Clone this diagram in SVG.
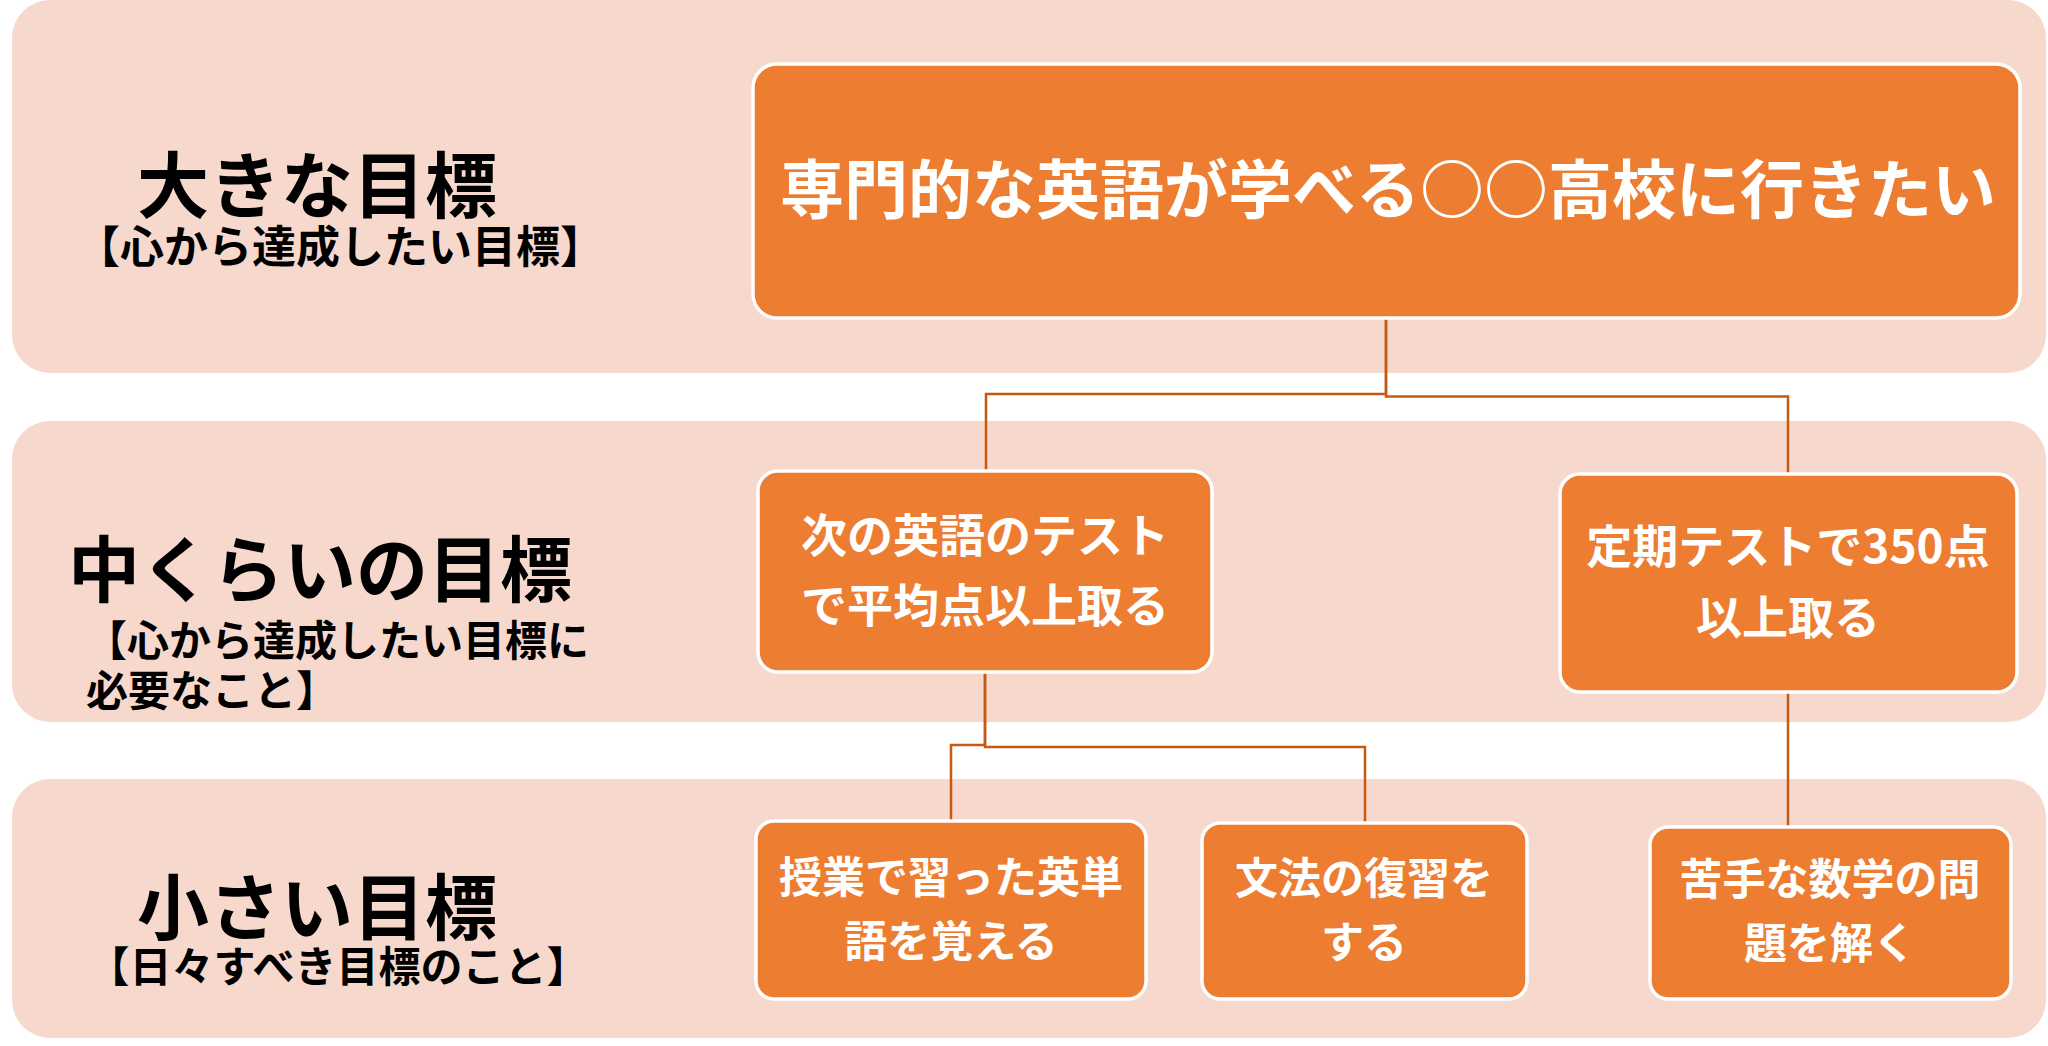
<svg xmlns="http://www.w3.org/2000/svg" width="2048" height="1046" viewBox="0 0 2048 1046">
<style>
.band{fill:#F7D8CD}
.node{fill:#ED7D31;stroke:#FFFFFF;stroke-width:3.5}
.conn{fill:none;stroke:#C55A11;stroke-width:2.5}
text{font-family:"Noto Sans CJK JP","Noto Sans",sans-serif;font-weight:bold;dominant-baseline:central}
.t{fill:#FFFFFF;text-anchor:middle}
.h{fill:#000000;text-anchor:middle;font-size:72px}
.s{fill:#000000;font-size:42px}
</style>
<rect width="2048" height="1046" fill="#FFFFFF"/>
<g id="bands">
<rect class="band" x="12" y="0" width="2034" height="373" rx="38" ry="38"/>
<rect class="band" x="12" y="421" width="2034" height="301" rx="38" ry="38"/>
<rect class="band" x="12" y="779" width="2034" height="259" rx="38" ry="38"/>
</g>
<g id="labels">
<text class="h" x="317" y="180">大きな目標</text>
<text class="s" x="340" y="244" text-anchor="middle" style="font-size:44px">【心から達成したい目標】</text>
<text class="h" x="320" y="564">中くらいの目標</text>
<text class="s" x="85" y="637">【心から達成したい目標に</text>
<text class="s" x="86" y="687">必要なこと】</text>
<text class="h" x="317" y="902">小さい目標</text>
<text class="s" x="338" y="963" text-anchor="middle">【日々すべき目標のこと】</text>
</g>
<g id="connectors">
<path class="conn" d="M1386,318 V394 H986 V471"/>
<path class="conn" d="M1386,318 V396.5 H1788 V474"/>
<path class="conn" d="M985,672 V745 H951 V821"/>
<path class="conn" d="M985,672 V747 H1365 V823"/>
<path class="conn" d="M1788,692 V827"/>
</g>
<g id="node-top">
<rect class="node" x="753" y="64" width="1267" height="254" rx="24" ry="24"/>
<text class="t" x="1388" y="185" style="font-size:64px">専門的な英語が学べる○○高校に行きたい</text>
</g>
<g id="node-mid1">
<rect class="node" x="758" y="471" width="454" height="201" rx="20" ry="20"/>
<text class="t" x="985" y="532" style="font-size:46px">次の英語のテスト</text>
<text class="t" x="985" y="602" style="font-size:46px">で平均点以上取る</text>
</g>
<g id="node-mid2">
<rect class="node" x="1560" y="474" width="457" height="218" rx="20" ry="20"/>
<text class="t" x="1788" y="543" style="font-size:46px">定期テストで350点</text>
<text class="t" x="1788" y="614" style="font-size:46px">以上取る</text>
</g>
<g id="node-low1">
<rect class="node" x="756" y="821" width="390" height="178" rx="18" ry="18"/>
<text class="t" x="951" y="874" style="font-size:43px">授業で習った英単</text>
<text class="t" x="951" y="938" style="font-size:43px">語を覚える</text>
</g>
<g id="node-low2">
<rect class="node" x="1202" y="823" width="325" height="176" rx="18" ry="18"/>
<text class="t" x="1364" y="875" style="font-size:43px">文法の復習を</text>
<text class="t" x="1364" y="939" style="font-size:43px">する</text>
</g>
<g id="node-low3">
<rect class="node" x="1650" y="827" width="361" height="172" rx="18" ry="18"/>
<text class="t" x="1830" y="876" style="font-size:43px">苦手な数学の問</text>
<text class="t" x="1830" y="940" style="font-size:43px">題を解く</text>
</g>
</svg>
